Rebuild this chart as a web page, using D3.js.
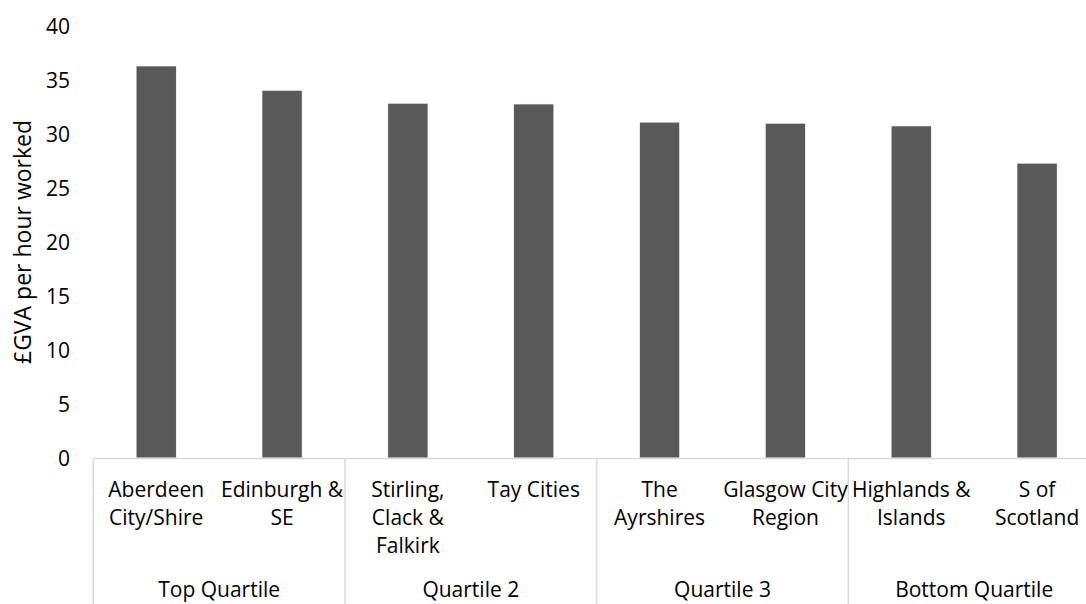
<!DOCTYPE html>
<html>
<head>
<meta charset="utf-8">
<script src="https://cdn.jsdelivr.net/npm/d3@7"></script>
<style>
  html, body { margin: 0; padding: 0; background: #fff; overflow: hidden; }
  svg { display: block; font-family: "Open Sans", sans-serif; }
</style>
</head>
<body>
<svg id="chart" width="1086" height="604"></svg>
<script>
// ---- data ----
const categories = [
  "Aberdeen\nCity/Shire",
  "Edinburgh &\nSE",
  "Stirling,\nClack &\nFalkirk",
  "Tay Cities",
  "The\nAyrshires",
  "Glasgow City\nRegion",
  "Highlands &\nIslands",
  "S of\nScotland"
];
const values = [36.3, 34.05, 32.85, 32.78, 31.1, 31.0, 30.75, 27.3];
const groups = ["Top Quartile", "Quartile 2", "Quartile 3", "Bottom Quartile"];
const groupSize = [2, 2, 2, 2];
const yTicks = [0, 5, 10, 15, 20, 25, 30, 35, 40];
const yTitle = "£GVA per hour worked";

// ---- layout ----
const W = 1086, H = 604;
const plotLeft = 93.3, plotRight = 1100, plotTop = 26, plotBottom = 458;
const svg = d3.select("#chart");

const x = d3.scaleBand().domain(d3.range(categories.length)).range([plotLeft, plotRight]).padding(0);
const y = d3.scaleLinear().domain([0, 40]).range([plotBottom, plotTop]);
const barW = x.bandwidth() * 0.32;

// bars
svg.append("g").selectAll("rect").data(values).join("rect")
  .attr("x", (d, i) => x(i) + x.bandwidth() / 2 - barW / 2)
  .attr("y", d => y(d))
  .attr("width", barW)
  .attr("height", d => y(0) - y(d))
  .attr("fill", "#595959")
  .attr("stroke", "#ffffff")
  .attr("stroke-width", 0.75);

// y axis
const yAxis = d3.axisLeft(y).tickValues(yTicks).tickSize(0).tickPadding(0);
const gy = svg.append("g").attr("transform", "translate(70,0)").call(yAxis);
gy.select(".domain").remove();
gy.selectAll("text")
  .attr("font-family", "Open Sans, sans-serif")
  .attr("font-size", 21)
  .attr("fill", "#000")
  .attr("dy", "0.36em");

// y title
const titleEl = svg.append("text")
  .attr("transform", `translate(31,${(plotTop + plotBottom) / 2}) rotate(-90)`)
  .attr("text-anchor", "middle")
  .attr("font-size", 21)
  .attr("fill", "#000")
  .text(yTitle);
const tl = titleEl.node().getComputedTextLength();
if (tl > 0) titleEl.attr("font-size", Math.min(23, 21 * 245 / tl));

// category axis line
const axisColor = "#d9d9d9";
svg.append("line")
  .attr("x1", plotLeft).attr("x2", plotRight)
  .attr("y1", plotBottom + 0.5).attr("y2", plotBottom + 0.5)
  .attr("stroke", axisColor).attr("stroke-width", 1.5);

// group separators
let idx = 0;
const bounds = [0];
groupSize.forEach(s => { idx += s; bounds.push(idx); });
bounds.forEach(b => {
  const bx = b < categories.length ? x(b) : plotRight;
  svg.append("line")
    .attr("x1", bx).attr("x2", bx)
    .attr("y1", plotBottom).attr("y2", H)
    .attr("stroke", axisColor).attr("stroke-width", 1.5);
});

// category labels
const labelG = svg.append("g");
categories.forEach((c, i) => {
  const t = labelG.append("text")
    .attr("text-anchor", "middle")
    .attr("font-size", 21)
    .attr("fill", "#000");
  c.split("\n").forEach((line, k) => {
    t.append("tspan")
      .attr("x", x(i) + x.bandwidth() / 2)
      .attr("y", 497 + k * 28)
      .text(line);
  });
});

// group labels
groups.forEach((g, gi) => {
  const x0 = x(bounds[gi]);
  const x1 = bounds[gi + 1] < categories.length ? x(bounds[gi + 1]) : plotRight;
  svg.append("text")
    .attr("x", (x0 + x1) / 2)
    .attr("y", 597)
    .attr("text-anchor", "middle")
    .attr("font-size", 21)
    .attr("fill", "#000")
    .text(g);
});
</script>
</body>
</html>
